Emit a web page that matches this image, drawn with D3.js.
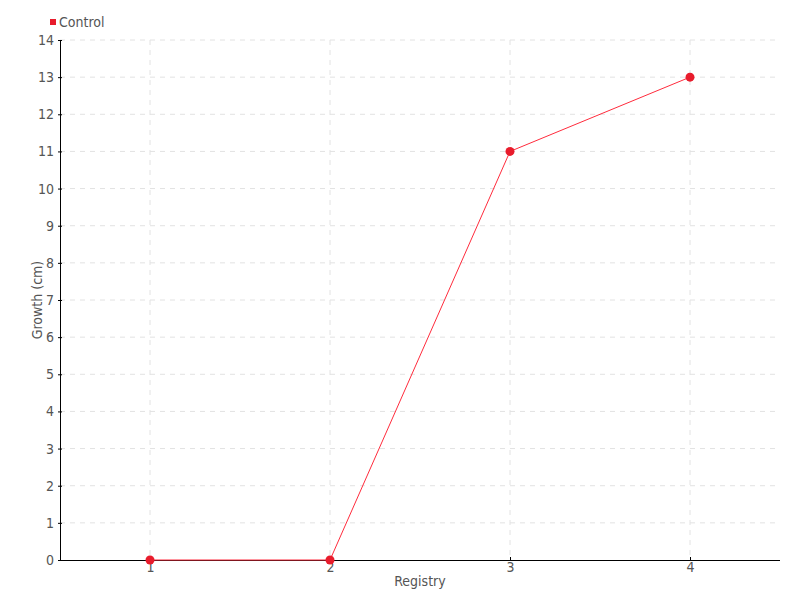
<!DOCTYPE html>
<html>
<head>
<meta charset="utf-8">
<script src="https://cdn.jsdelivr.net/npm/d3@7"></script>
<style>
  body { margin: 0; background: #fff; }
  text { font-family: "DejaVu Sans Condensed", "Liberation Sans Narrow", "Roboto", sans-serif; fill: #555; }
</style>
</head>
<body>
<svg id="chart" width="800" height="600"></svg>
<script>
// data
const registry = [1, 2, 3, 4];
const growth = [0, 0, 11, 13];
const seriesName = "Control";
const yTicks = d3.range(0, 15);

const svg = d3.select("#chart"),
  margin = { top: 40, right: 20, bottom: 40, left: 60 },
  width = 800 - margin.left - margin.right,
  height = 600 - margin.top - margin.bottom;

const x = d3.scaleLinear().domain([0.5, 4.5]).range([0, width]);
const y = d3.scaleLinear().domain([0, 14]).range([height, 0]);

const g = svg.append("g").attr("transform", `translate(${margin.left},${margin.top})`);

// grid
g.append("g")
  .selectAll("line")
  .data(yTicks.slice(1))
  .enter()
  .append("line")
  .attr("x1", 0)
  .attr("x2", width)
  .attr("y1", d => y(d))
  .attr("y2", d => y(d))
  .attr("stroke", "#e2e2e2")
  .attr("stroke-dasharray", "5,5");

g.append("g")
  .selectAll("line")
  .data(registry)
  .enter()
  .append("line")
  .attr("x1", d => x(d))
  .attr("x2", d => x(d))
  .attr("y1", 0)
  .attr("y2", height)
  .attr("stroke", "#e2e2e2")
  .attr("stroke-dasharray", "5,5");

// axes
const xAxis = g.append("g")
  .attr("transform", `translate(0,${height})`)
  .call(d3.axisBottom(x).tickValues(registry).tickFormat(d3.format("d")).tickSize(-3).tickPadding(2));
xAxis.select(".domain").attr("stroke", "#000").attr("d", `M0,0.5H${width}`);
xAxis.selectAll(".tick line").attr("stroke", "#000");
xAxis.selectAll("text").style("font-size", "14px").attr("fill", "#555");

const yAxis = g.append("g")
  .call(d3.axisLeft(y).tickValues(yTicks).tickFormat(d3.format("d")).tickSize(2).tickPadding(4));
yAxis.select(".domain").attr("stroke", "#000").attr("d", `M0.5,${height}V0`);
yAxis.selectAll(".tick line").attr("stroke", "#000").attr("x2", 2).attr("x1", -2);
yAxis.selectAll("text").style("font-size", "14px").attr("fill", "#555");

// axis titles
g.append("text")
  .attr("x", width / 2)
  .attr("y", height + 26)
  .attr("text-anchor", "middle")
  .style("font-size", "14px")
  .text("Registry");

g.append("text")
  .attr("transform", `translate(-18,${height / 2}) rotate(-90)`)
  .attr("text-anchor", "middle")
  .style("font-size", "14px")
  .text("Growth (cm)");

// line + points
const pts = registry.map((r, i) => [r, growth[i]]);
g.append("path")
  .datum(pts)
  .attr("fill", "none")
  .attr("stroke", "#ff2b3c")
  .attr("stroke-width", 1)
  .attr("d", d3.line().x(d => x(d[0])).y(d => y(d[1])));

g.selectAll("circle")
  .data(pts)
  .enter()
  .append("circle")
  .attr("cx", d => x(d[0]))
  .attr("cy", d => y(d[1]))
  .attr("r", 4.5)
  .attr("fill", "#e81c2c");

// legend
const legend = svg.append("g").attr("transform", "translate(50,19)");
legend.append("rect").attr("width", 6).attr("height", 6).attr("fill", "#e81c2c");
legend.append("text")
  .attr("x", 9)
  .attr("y", 3)
  .attr("dy", "0.35em")
  .style("font-size", "14px")
  .text(seriesName);
</script>
</body>
</html>
